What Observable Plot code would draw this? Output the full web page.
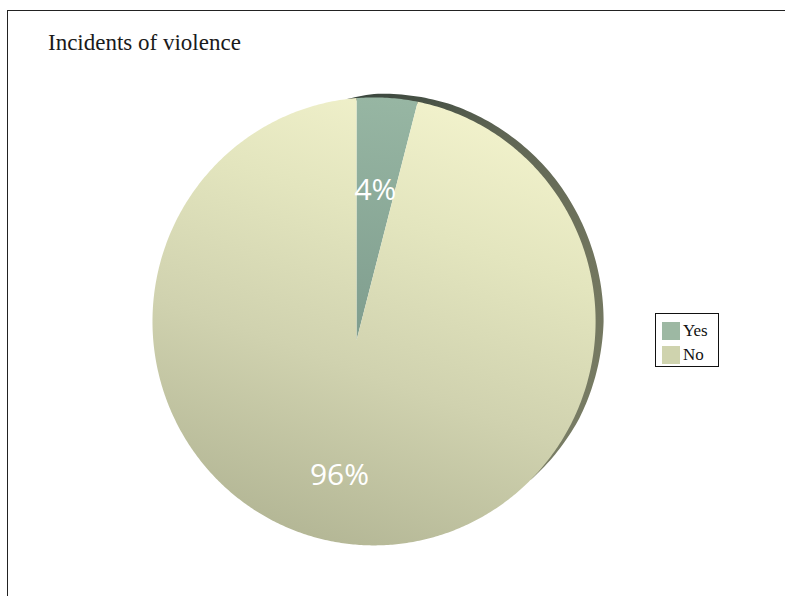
<!DOCTYPE html>
<html><head><meta charset="utf-8">
<script src="https://cdn.jsdelivr.net/npm/d3@7"></script>
<script src="https://cdn.jsdelivr.net/npm/@observablehq/plot@0.6"></script>
<style>
html,body{margin:0;padding:0;background:#fff;}
#wrap{position:relative;width:785px;height:596px;overflow:hidden;background:#fff;}
#frame{position:absolute;left:7px;top:10px;width:820px;height:640px;border-left:1.5px solid #222;border-top:1.5px solid #222;}
#title{position:absolute;left:48px;top:30px;font-family:"Liberation Serif",serif;font-size:23px;color:#1a1a1a;white-space:nowrap;}
#chart{position:absolute;left:0;top:0;}
#legend{position:absolute;left:655px;top:313px;width:64px;height:54px;border:1px solid #111;background:#fff;font-family:"Liberation Serif",serif;font-size:17px;color:#111;box-sizing:border-box;padding:5px 0 0 6px;}
.li{display:flex;align-items:center;height:24px;}
.sw{width:18px;height:18px;margin-right:3px;}
</style></head>
<body>
<div id="wrap">
  <div id="frame"></div>
  <div id="chart"></div>
  <div id="title"></div>
  <div id="legend"></div>
</div>
<script>
const titleText = "Incidents of violence";
const categories = ["Yes", "No"];
const values = [4, 96];
const valueLabels = ["4%", "96%"];
const legendColors = ["#9db8a3", "#cfd3ae"];
const sliceFills = ["url(#gYes)", "url(#gNo)"];

document.getElementById("title").textContent = titleText;

// pie outline (slight perspective: apex at origin, ellipse off-centre)
const EX = 0.079, EY = 0.086, RX = 0.998, RY = 1.009;
const PX = 222; // pixels per data unit
function rayLen(th) {
  const dx = Math.sin(th), dy = Math.cos(th);
  const a = dx*dx/(RX*RX) + dy*dy/(RY*RY);
  const b = -2*(dx*EX/(RX*RX) + dy*EY/(RY*RY));
  const c = EX*EX/(RX*RX) + EY*EY/(RY*RY) - 1;
  return (-b + Math.sqrt(b*b - 4*a*c)) / (2*a);
}
const arcs = d3.pie().sort(null)(values);
const slices = arcs.map((a) => {
  const pts = [{x: 0, y: 0}];
  const n = Math.max(4, Math.ceil((a.endAngle - a.startAngle) / 0.01));
  for (let k = 0; k <= n; k++) {
    const th = a.startAngle + (a.endAngle - a.startAngle) * k / n;
    const t = rayLen(th);
    pts.push({x: t*Math.sin(th), y: t*Math.cos(th)});
  }
  pts.push({x: 0, y: 0});
  return pts;
});
// rim: thickness of the disc seen along the back-right edge (angles about ellipse centre, degrees)
const rimAngles = [-7, 0, 20, 50, 90, 115, 135];
const rimWidths = [0, 3.5, 6.5, 8, 8, 5, 0];
const wOf = d3.scaleLinear().domain(rimAngles).range(rimWidths).clamp(true);
const rim = [];
for (let d = rimAngles[0]; d <= rimAngles[rimAngles.length-1]; d += 1) {
  const th = d * Math.PI / 180, w = wOf(d) / PX;
  rim.push({x: EX + (RX + w)*Math.sin(th), y: EY + (RY + w)*Math.cos(th)});
}
for (let d = rimAngles[rimAngles.length-1]; d >= rimAngles[0]; d -= 1) {
  const th = d * Math.PI / 180;
  rim.push({x: EX + (RX - 0.01)*Math.sin(th), y: EY + (RY - 0.01)*Math.cos(th)});
}
const labelR = [0.68, 0.613];
const labelPts = arcs.map((a, i) => {
  const th = (a.startAngle + a.endAngle) / 2;
  return {x: labelR[i]*Math.sin(th), y: labelR[i]*Math.cos(th), t: valueLabels[i]};
});

const chart = Plot.plot({
  width: 785, height: 596,
  margin: 0,
  x: {domain: [-1, 1], range: [356 - PX, 356 + PX], axis: null},
  y: {domain: [-1, 1], range: [340 + PX, 340 - PX], axis: null},
  style: {background: "transparent"},
  marks: [
    Plot.line(rim, {x: "x", y: "y", fill: "url(#gRim)", stroke: "none"}),
    ...slices.map((s, i) => Plot.line(s, {x: "x", y: "y", fill: sliceFills[i], stroke: "none"})),
    Plot.text(labelPts, {x: "x", y: "y", text: "t", fill: "white", fontSize: 30, fontFamily: "Open Sans"})
  ]
});
const defs = d3.select(chart).insert("defs", ":first-child");
function grad(id, x1, y1, x2, y2, stops) {
  const g = defs.append("linearGradient").attr("id", id).attr("gradientUnits", "userSpaceOnUse")
    .attr("x1", x1).attr("y1", y1).attr("x2", x2).attr("y2", y2);
  stops.forEach(([o, c]) => g.append("stop").attr("offset", o).attr("stop-color", c));
}
grad("gNo", 480, 100, 320, 548, [[0, "#f3f3cd"], [0.3, "#e3e5be"], [0.62, "#d0d2af"], [1, "#b3b695"]]);
grad("gYes", 380, 97, 356, 340, [[0, "#97b6a3"], [1, "#7f9d8e"]]);
grad("gRim", 360, 92, 600, 460, [[0, "#3a463d"], [0.25, "#5f6554"], [0.6, "#71755e"], [1, "#7a7e66"]]);
document.getElementById("chart").appendChild(chart);

const leg = d3.select("#legend");
categories.forEach((c, i) => {
  const row = leg.append("div").attr("class", "li");
  row.append("div").attr("class", "sw").style("background", legendColors[i]);
  row.append("span").text(c);
});
</script>
</body></html>
